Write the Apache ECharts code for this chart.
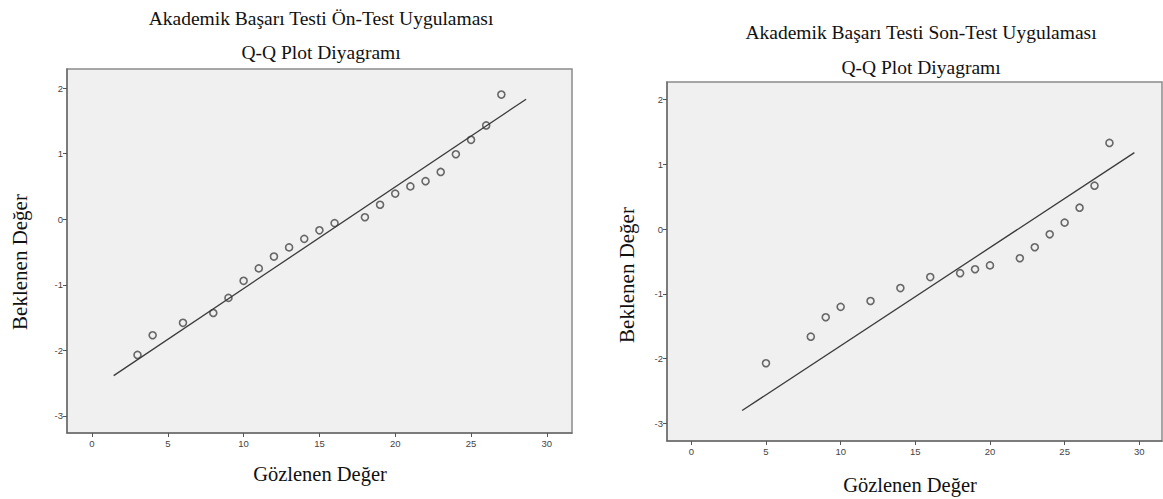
<!DOCTYPE html>
<html>
<head>
<meta charset="utf-8">
<script src="https://cdn.jsdelivr.net/npm/echarts@6/dist/echarts.min.js"></script>
<style>
html,body{margin:0;padding:0;background:#fff;}
#c{width:1163px;height:499px;}
</style>
</head>
<body>
<div id="c"></div>
<script>
// ---- Data ----
const preTitle = 'Akademik Başarı Testi Ön-Test Uygulaması';
const postTitle = 'Akademik Başarı Testi Son-Test Uygulaması';
const subTitle = 'Q-Q Plot Diyagramı';
const xName = 'Gözlenen Değer';
const yName = 'Beklenen Değer';

const preObserved = [3, 4, 6, 8, 9, 10, 11, 12, 13, 14, 15, 16, 18, 19, 20, 21, 22, 23, 24, 25, 26, 27];
const preExpected = [-2.07, -1.77, -1.58, -1.43, -1.20, -0.94, -0.75, -0.57, -0.43, -0.30, -0.17, -0.06, 0.03, 0.22, 0.39, 0.50, 0.58, 0.72, 0.99, 1.21, 1.43, 1.90];
const preLineX = [1.43, 28.63];
const preLineY = [-2.385, 1.83];

const postObserved = [5, 8, 9, 10, 12, 14, 16, 18, 19, 20, 22, 23, 24, 25, 26, 27, 28];
const postExpected = [-2.07, -1.66, -1.36, -1.20, -1.11, -0.91, -0.74, -0.68, -0.62, -0.56, -0.45, -0.28, -0.08, 0.10, 0.33, 0.67, 1.33];
const postLineX = [3.40, 29.67];
const postLineY = [-2.80, 1.18];

const xTicks = [0, 5, 10, 15, 20, 25, 30];
const yTicks = [-3, -2, -1, 0, 1, 2];

// ---- Build ----
const zip = (a, b) => a.map((v, i) => [v, b[i]]);
const serif = '"Liberation Serif", "Times New Roman", serif';
const sans = '"Liberation Sans", Arial, sans-serif';

function xAxisCfg(idx, min, max) {
  return {
    type: 'value', gridIndex: idx, min: min, max: max,
    axisLine: { show: true, onZero: false, lineStyle: { color: '#6e6e6e', width: 1.5 } },
    axisTick: { show: true, length: 4, customValues: xTicks, lineStyle: { color: '#555', width: 1 } },
    axisLabel: { customValues: xTicks, fontSize: 9.5, color: '#444', fontFamily: sans, margin: 5 },
    splitLine: { show: false }
  };
}
function yAxisCfg(idx, min, max) {
  return {
    type: 'value', gridIndex: idx, min: min, max: max,
    axisLine: { show: true, onZero: false, lineStyle: { color: '#6e6e6e', width: 1.5 } },
    axisTick: { show: true, length: 4, customValues: yTicks, lineStyle: { color: '#555', width: 1 } },
    axisLabel: { customValues: yTicks, fontSize: 9.5, color: '#444', fontFamily: sans, margin: 4 },
    splitLine: { show: false }
  };
}
const pointStyle = { color: 'rgba(0,0,0,0)', borderColor: '#454545', borderWidth: 1.6 };

const chart = echarts.init(document.getElementById('c'), null, { renderer: 'svg' });
chart.setOption({
  animation: false,
  backgroundColor: '#ffffff',
  grid: [
    { left: 67, top: 69, width: 505, height: 364, show: true, backgroundColor: '#f0f0f0', borderColor: '#8a8a8a', borderWidth: 1.5 },
    { left: 667, top: 82, width: 495, height: 359, show: true, backgroundColor: '#f0f0f0', borderColor: '#8a8a8a', borderWidth: 1.5 }
  ],
  xAxis: [xAxisCfg(0, -1.65, 31.66), xAxisCfg(1, -1.63, 31.52)],
  yAxis: [yAxisCfg(0, -3.26, 2.29), yAxisCfg(1, -3.27, 2.27)],
  series: [
    { type: 'line', xAxisIndex: 0, yAxisIndex: 0, data: zip(preLineX, preLineY), showSymbol: false, symbol: 'none',
      lineStyle: { color: '#3a3a3a', width: 1.3 }, silent: true },
    { type: 'scatter', xAxisIndex: 0, yAxisIndex: 0, data: zip(preObserved, preExpected), symbol: 'circle', symbolSize: 7, itemStyle: pointStyle },
    { type: 'line', xAxisIndex: 1, yAxisIndex: 1, data: zip(postLineX, postLineY), showSymbol: false, symbol: 'none',
      lineStyle: { color: '#3a3a3a', width: 1.3 }, silent: true },
    { type: 'scatter', xAxisIndex: 1, yAxisIndex: 1, data: zip(postObserved, postExpected), symbol: 'circle', symbolSize: 7, itemStyle: pointStyle }
  ],
  graphic: [
    { type: 'text', x: 321, y: 18, style: { text: preTitle, font: '19.5px ' + serif, fill: '#111', textAlign: 'center', textVerticalAlign: 'middle' } },
    { type: 'text', x: 321, y: 52, style: { text: subTitle, font: '19.5px ' + serif, fill: '#111', textAlign: 'center', textVerticalAlign: 'middle' } },
    { type: 'text', x: 921, y: 32, style: { text: postTitle, font: '19.5px ' + serif, fill: '#111', textAlign: 'center', textVerticalAlign: 'middle' } },
    { type: 'text', x: 921, y: 67, style: { text: subTitle, font: '19.5px ' + serif, fill: '#111', textAlign: 'center', textVerticalAlign: 'middle' } },
    { type: 'text', x: 20, y: 262, rotation: Math.PI / 2, style: { text: yName, font: '21px ' + serif, fill: '#111', textAlign: 'center', textVerticalAlign: 'middle' } },
    { type: 'text', x: 627, y: 275, rotation: Math.PI / 2, style: { text: yName, font: '21px ' + serif, fill: '#111', textAlign: 'center', textVerticalAlign: 'middle' } },
    { type: 'text', x: 320, y: 474, style: { text: xName, font: '20.5px ' + serif, fill: '#111', textAlign: 'center', textVerticalAlign: 'middle' } },
    { type: 'text', x: 910, y: 485, style: { text: xName, font: '20.5px ' + serif, fill: '#111', textAlign: 'center', textVerticalAlign: 'middle' } }
  ]
});
</script>
</body>
</html>
